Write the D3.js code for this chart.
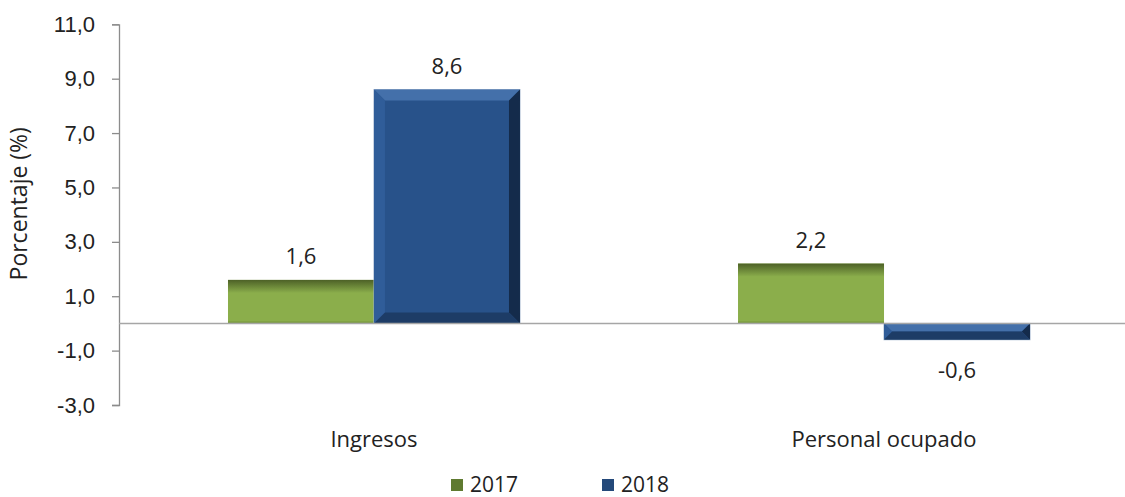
<!DOCTYPE html>
<html>
<head>
<meta charset="utf-8">
<script src="https://cdn.jsdelivr.net/npm/d3@7"></script>
<style>
  body { margin: 0; background: #fff; }
  svg { font-family: "Open Sans", "DejaVu Sans", sans-serif; }
  .label { font-size: 22px; fill: #222; }
</style>
</head>
<body>
<svg id="chart"></svg>
<script>
// data
const categories = ['Ingresos', 'Personal ocupado'];
const years = ['2017', '2018'];
const values2017 = [1.6, 2.2];
const values2018 = [8.6, -0.6];
const yTicks = [-3, -1, 1, 3, 5, 7, 9, 11];

const W = 1125, H = 497;
const svg = d3.select('#chart').attr('width', W).attr('height', H);

const rows = [];
categories.forEach((c, i) => {
  rows.push({ cat: c, year: '2017', value: values2017[i] });
  rows.push({ cat: c, year: '2018', value: values2018[i] });
});

const fmt = v => d3.format('.1f')(v).replace('.', ',').replace('\u2212', '-');

// scales
const y = d3.scaleLinear().domain([-3, 11]).range([405, 24.3]);
const x0 = d3.scaleBand().domain(categories).range([119, 1139])
  .paddingInner(0.4275).paddingOuter(0.2137);
const x1 = d3.scaleBand().domain(years).range([0, x0.bandwidth()]);

// gradients
const defs = svg.append('defs');
const gTop = defs.append('linearGradient').attr('id', 'greenTop')
  .attr('x1', 0).attr('y1', 0).attr('x2', 0).attr('y2', 1);
gTop.append('stop').attr('offset', 0).attr('stop-color', '#4d6127');
gTop.append('stop').attr('offset', 1).attr('stop-color', '#8aad4b');

// y axis
const yAxis = svg.append('g')
  .attr('transform', 'translate(119,0)')
  .call(d3.axisLeft(y).tickValues(yTicks).tickSize(7).tickPadding(17)
    .tickFormat(fmt));
yAxis.select('.domain').attr('stroke', '#8c8c8c').attr('stroke-width', 1.3);
yAxis.selectAll('.tick line').attr('stroke', '#8c8c8c').attr('stroke-width', 1.3);
yAxis.selectAll('.tick text').attr('font-family', null)
  .style('font-size', '22px').attr('fill', '#222');

svg.append('text')
  .attr('class', 'label')
  .style('font-size', '23px')
  .attr('transform', `translate(27, ${y(4.4)}) rotate(-90)`)
  .attr('text-anchor', 'middle')
  .text('Porcentaje (%)');

// bars
const bev = 11;
const bars = svg.append('g').selectAll('g').data(rows).enter().append('g')
  .attr('transform', d => `translate(${x0(d.cat) + x1(d.year)},${y(Math.max(0, d.value))})`);

bars.each(function (d) {
  const g = d3.select(this);
  const w = x1.bandwidth();
  const h = Math.abs(y(d.value) - y(0));
  if (d.year === '2017') {
    g.append('rect').attr('width', w).attr('height', h).attr('fill', '#8bae4b');
    g.append('rect').attr('width', w).attr('height', Math.min(bev + 2, h))
      .attr('fill', 'url(#greenTop)');
    g.append('rect').attr('y', h - 2).attr('width', w).attr('height', 2).attr('fill', '#7a9a40');
  } else {
    const b = Math.min(bev, h / 2, w / 2);
    g.append('rect').attr('width', w).attr('height', h).attr('fill', '#28528a')
      .attr('stroke', '#9fb3cc').attr('stroke-width', 1);
    const poly = (pts, fill) => g.append('polygon')
      .attr('points', pts.map(p => p.join(',')).join(' ')).attr('fill', fill);
    poly([[0, 0], [w, 0], [w - b, b], [b, b]], '#4470aa');
    poly([[0, 0], [b, b], [b, h - b], [0, h]], '#305d99');
    poly([[w, 0], [w, h], [w - b, h - b], [w - b, b]], '#142b4b');
    poly([[0, h], [b, h - b], [w - b, h - b], [w, h]], '#1d3c66');
  }
});

// zero line
svg.append('line')
  .attr('x1', 119).attr('x2', W)
  .attr('y1', y(0)).attr('y2', y(0))
  .attr('stroke', '#a6a6a6').attr('stroke-width', 1.5);

// value labels
svg.append('g').selectAll('text').data(rows).enter().append('text')
  .attr('class', 'label')
  .attr('text-anchor', 'middle')
  .attr('x', d => x0(d.cat) + x1(d.year) + x1.bandwidth() / 2)
  .attr('y', d => d.value >= 0 ? y(d.value) - 16 : y(d.value) + 38)
  .text(d => fmt(d.value));

// category labels
svg.append('g').selectAll('text').data(categories).enter().append('text')
  .attr('class', 'label')
  .attr('text-anchor', 'middle')
  .attr('x', d => x0(d) + x0.bandwidth() / 2)
  .attr('y', 447)
  .text(d => d);

// legend
const legendX = [451, 602];
const legend = svg.append('g').selectAll('g').data(years).enter().append('g')
  .attr('transform', (d, i) => `translate(${legendX[i]},479)`);
legend.append('rect').attr('width', 12).attr('height', 12)
  .attr('fill', (d, i) => i === 0 ? '#5f7a30' : '#24497a');
legend.append('text').attr('class', 'label')
  .style('font-size', '21px')
  .attr('x', 19).attr('y', 13)
  .text(d => d);
</script>
</body>
</html>
